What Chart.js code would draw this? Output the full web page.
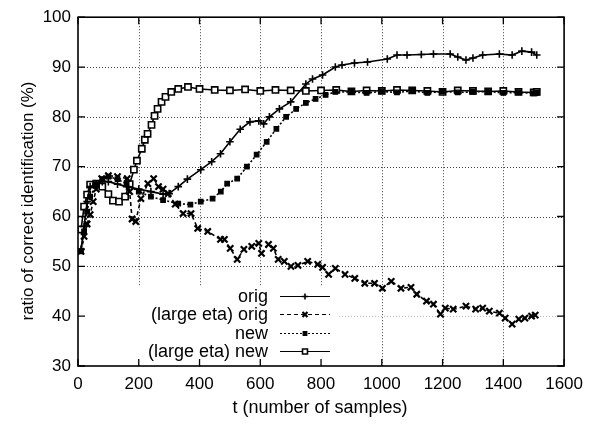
<!DOCTYPE html>
<html><head><meta charset="utf-8">
<script src="https://cdn.jsdelivr.net/npm/chart.js@4.4.1/dist/chart.umd.min.js"></script>
<style>html,body{margin:0;padding:0;background:#fff}#wrap{width:591px;height:426px}</style>
</head><body><div id="wrap"><canvas id="c" width="591" height="426"></canvas></div>
<script>
const xTicks = [0,200,400,600,800,1000,1200,1400,1600];
const yTicks = [30,40,50,60,70,80,90,100];
const seriesNames = ['orig','(large eta) orig','new','(large eta) new'];
const xTitle = 't (number of samples)';
const yTitle = 'ratio of correct identification (%)';

const tOrig = [10,20,30,40,60,80,100,130,160,200,240,280,300,330,360,404,440,469,500,534,566,595,611,630,663,700,750,772,805,847,869,910,953,1018,1050,1083,1130,1170,1225,1250,1277,1300,1332,1387,1429,1461,1493,1510];
const vOrig = [53.4,58,63,66,66.5,67,67,66.5,66,65.5,65,64.5,64.6,66,67.5,69.4,71,72.6,75,77.5,79,79.2,78.6,80,81.6,83,86.6,87.6,88.4,90,90.4,90.8,91,91.6,92.4,92.4,92.5,92.6,92.6,92,91.4,91.8,92.4,92.6,92.4,93.2,93,92.4];

const tLargeOrig = [10,20,30,40,50,60,78,100,130,162,170,178,190,207,230,249,265,280,297,320,346,372,394,427,469,482,501,524,546,572,595,604,627,643,659,679,701,724,756,789,805,825,847,879,911,944,976,1002,1031,1063,1096,1115,1147,1170,1193,1209,1235,1277,1309,1332,1354,1387,1406,1429,1451,1471,1493,1505];
const vLargeOrig = [53,56,58.5,60.4,63,65.5,67.6,68.2,68,67.6,65,59.5,59,63.6,66.6,67.6,66,65.5,64.6,62.5,60.6,60.6,57.6,57,55.4,55.4,53.6,51.4,53.4,54,54.6,52.6,54.4,53.6,51.4,51,50,50.2,51,50.4,49.8,48.4,49.6,48.4,47.6,46.6,46.6,45.6,47,45.6,45.8,44.4,43,42.4,40.4,41.6,41.4,42,41.4,41.6,41,40.6,39.6,38.4,39.4,39.6,40,40.2];

const tNew = [10,20,30,40,60,80,100,130,160,200,240,280,330,370,404,443,470,491,524,556,588,621,653,685,718,750,782,815,847,900,950,1000,1050,1100,1150,1200,1250,1300,1350,1400,1450,1500,1510];
const vNew = [53,57,61,64,66.5,67.5,68,67.5,66.5,65,64,63.3,62.6,62.4,63,63.6,65,66.6,67.6,70,72.4,75,77.6,80,81.6,82.8,83.6,84.4,85,85.0,84.8,85.1,84.9,85.2,84.8,85.1,84.9,85.0,85.1,84.8,84.9,84.7,84.8];

const tLargeNew = [10,20,30,40,60,80,100,115,135,155,170,184,194,210,220,229,242,252,262,275,288,307,330,362,400,450,500,550,600,650,700,750,800,850,900,950,1000,1050,1100,1150,1200,1250,1300,1350,1400,1450,1500,1510];
const vLargeNew = [57.4,62,64.4,66.4,66.6,66,64.5,63.2,63,64,66.5,69.4,71.2,73.6,75.4,76.6,78.4,80.2,81.6,83,84,85,85.6,86,85.6,85.4,85.3,85.5,85.2,85.4,85.3,85.2,85.3,85.4,85.1,85.3,85.2,85.4,85.3,85.2,85.0,85.3,85.2,85.1,85.2,85.0,84.9,85.0];

const FONT = 'Liberation Sans, Arial, Helvetica, sans-serif';
const pts = (t, v) => t.map((x, i) => ({x, y: v[i]}));

const styles = [
  {borderWidth:1.6, borderDash:[], pointStyle:'cross', pointRadius:3.8, pointBorderWidth:1.6, pointBackgroundColor:'#000'},
  {borderWidth:1.6, borderDash:[4,3], pointStyle:'crossRot', pointRadius:4.4, pointBorderWidth:2.2, pointBackgroundColor:'#000'},
  {borderWidth:1.6, borderDash:[2,2], pointStyle:'rect', pointRadius:3.2, pointBorderWidth:1.2, pointBackgroundColor:'#000'},
  {borderWidth:1.6, borderDash:[], pointStyle:'rect', pointRadius:4.4, pointBorderWidth:1.6, pointBackgroundColor:'#fff'}
];
const dataSets = [pts(tOrig,vOrig), pts(tLargeOrig,vLargeOrig), pts(tNew,vNew), pts(tLargeNew,vLargeNew)];

const deco = {
  id: 'deco',
  beforeDatasetsDraw(chart) {
    const {ctx, chartArea: a, scales: {x, y}} = chart;
    ctx.save();
    ctx.strokeStyle = '#444'; ctx.lineWidth = 1; ctx.setLineDash([1,2]);
    xTicks.forEach(v => {
      if (v === 0 || v === 1600) return;
      const px = Math.round(x.getPixelForValue(v)) + 0.5;
      ctx.beginPath(); ctx.moveTo(px, a.top); ctx.lineTo(px, a.bottom); ctx.stroke();
    });
    yTicks.forEach(v => {
      if (v === 30 || v === 100) return;
      const py = Math.round(y.getPixelForValue(v)) + 0.5;
      ctx.strokeStyle = v === 40 ? '#bbb' : '#444';
      ctx.beginPath(); ctx.moveTo(a.left, py); ctx.lineTo(a.right, py); ctx.stroke();
    });
    ctx.restore();
  },
  afterDraw(chart) {
    const {ctx, chartArea: a, scales: {x, y}} = chart;
    ctx.save();
    ctx.fillStyle = '#fff';
    ctx.fillRect(a.left + 1, 286, 336 - a.left, a.bottom - 286 - 1);
    ctx.setLineDash([]);
    ctx.strokeStyle = '#000'; ctx.lineWidth = 1.6;
    ctx.strokeRect(a.left, a.top, a.right - a.left, a.bottom - a.top);
    ctx.lineWidth = 1.3;
    const tl = 7;
    xTicks.forEach(v => {
      const px = x.getPixelForValue(v);
      ctx.beginPath();
      ctx.moveTo(px, a.bottom); ctx.lineTo(px, a.bottom - tl);
      ctx.moveTo(px, a.top); ctx.lineTo(px, a.top + tl);
      ctx.stroke();
    });
    yTicks.forEach(v => {
      const py = y.getPixelForValue(v);
      ctx.beginPath();
      ctx.moveTo(a.left, py); ctx.lineTo(a.left + tl, py);
      ctx.moveTo(a.right, py); ctx.lineTo(a.right - tl, py);
      ctx.stroke();
    });
    ctx.fillStyle = '#000';
    ctx.font = '18px ' + FONT;
    ctx.textAlign = 'center'; ctx.textBaseline = 'middle';
    ctx.fillText(xTitle, 320, 408);
    ctx.save();
    ctx.translate(28, 201); ctx.rotate(-Math.PI / 2);
    ctx.font = '17px ' + FONT;
    ctx.fillText(yTitle, 0, 0);
    ctx.restore();
    const rows = [296, 314, 333, 351];
    ctx.font = '18px ' + FONT;
    ctx.textAlign = 'right'; ctx.textBaseline = 'middle';
    seriesNames.forEach((name, i) => {
      const ry = rows[i], s = styles[i];
      ctx.fillStyle = '#000';
      ctx.fillText(name, 268, ry + 1);
      ctx.strokeStyle = '#000'; ctx.lineWidth = 1.2;
      ctx.setLineDash(s.borderDash);
      ctx.beginPath(); ctx.moveTo(280, ry + 0.5); ctx.lineTo(330, ry + 0.5); ctx.stroke();
      ctx.setLineDash([]);
      ctx.lineWidth = s.pointBorderWidth;
      ctx.fillStyle = s.pointBackgroundColor;
      Chart.helpers.drawPoint(ctx, {pointStyle: s.pointStyle, radius: s.pointRadius * 0.8, rotation: 0, borderWidth: s.pointBorderWidth}, 305, ry + 0.5);
    });
    ctx.restore();
  }
};

new Chart(document.getElementById('c'), {
  type: 'line',
  data: {
    datasets: seriesNames.map((name, i) => Object.assign({
      label: name,
      data: dataSets[i],
      borderColor: '#000',
      pointBorderColor: '#000',
      fill: false,
      tension: 0
    }, styles[i]))
  },
  options: {
    responsive: false,
    animation: false,
    events: [],
    layout: {padding: {left: 0, right: 18, top: 15, bottom: 0}},
    plugins: {legend: {display: false}, tooltip: {enabled: false}},
    scales: {
      x: {
        type: 'linear', min: 0, max: 1600,
        afterBuildTicks: s => { s.ticks = xTicks.map(v => ({value: v})); },
        afterFit: s => { s.height = 60; },
        grid: {display: false, drawTicks: false},
        border: {display: false},
        ticks: {color: '#000', font: {family: FONT, size: 17}, padding: 8, maxRotation: 0, autoSkip: false, callback: v => String(v)}
      },
      y: {
        type: 'linear', min: 30, max: 100,
        afterBuildTicks: s => { s.ticks = yTicks.map(v => ({value: v})); },
        afterFit: s => { s.width = 78; },
        grid: {display: false, drawTicks: false},
        border: {display: false},
        ticks: {color: '#000', font: {family: FONT, size: 17}, padding: 7, callback: v => String(v)}
      }
    }
  },
  plugins: [deco]
});
</script>
</body></html>
